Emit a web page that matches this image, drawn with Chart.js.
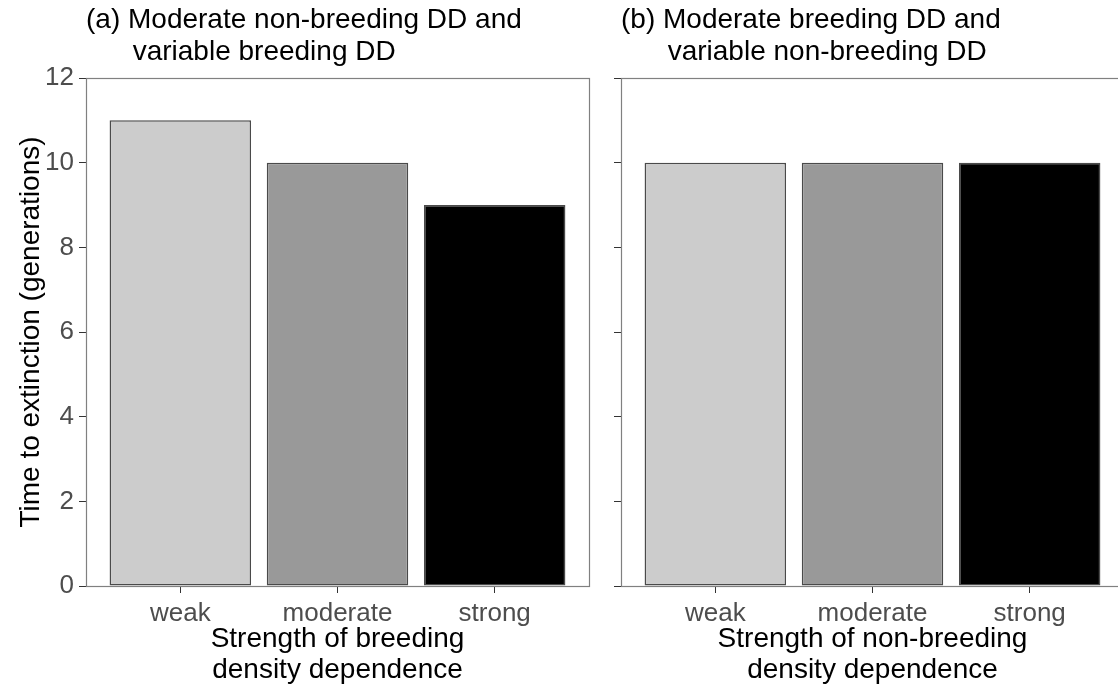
<!DOCTYPE html>
<html>
<head>
<meta charset="utf-8">
<script src="https://cdn.jsdelivr.net/npm/chart.js@4.4.1/dist/chart.umd.min.js"></script>
<style>
  html, body { margin: 0; padding: 0; background: #ffffff; overflow: hidden; }
  #wrap { position: relative; width: 1118px; height: 692px; overflow: hidden; }
  canvas { position: absolute; top: 0; }
  #panelA { left: 0; }
  #panelB { left: 600px; }
</style>
</head>
<body>
<div id="wrap">
  <canvas id="panelA" width="600" height="692"></canvas>
  <canvas id="panelB" width="530" height="692"></canvas>
</div>
<script>
// Density-dependence strength levels on the x axis
const categories = ['weak', 'moderate', 'strong'];
// Time to extinction (generations) for each panel
const breedingVariableTimes = [11, 10, 9];
const nonBreedingVariableTimes = [10, 10, 10];
const barFills = ['#cccccc', '#999999', '#000000'];
const yMax = 12;
const yStep = 2;

const titleA = ['(a) Moderate non-breeding DD and', '      variable breeding DD'];
const titleB = ['(b) Moderate breeding DD and', '      variable non-breeding DD'];
const xTitleA = ['Strength of breeding', 'density dependence'];
const xTitleB = ['Strength of non-breeding', 'density dependence'];
const yTitle = 'Time to extinction (generations)';

const FONT = "'Liberation Sans', Arial, Helvetica, sans-serif";
const TICK_GREY = '#4d4d4d';

// Draws the full panel border around the plotting area
const panelBorder = {
  id: 'panelBorder',
  afterDatasetsDraw(chart) {
    const a = chart.chartArea;
    const ctx = chart.ctx;
    ctx.save();
    ctx.strokeStyle = '#808080';
    ctx.lineWidth = 1.2;
    ctx.strokeRect(a.left + 0.5, a.top + 0.5, a.right - a.left, a.bottom - a.top);
    ctx.restore();
  }
};

function makePanel(canvasId, values, title, xTitle, opts) {
  return new Chart(document.getElementById(canvasId), {
    type: 'bar',
    data: {
      datasets: [{
        data: values.map((v, i) => ({ x: i + 1, y: v })),
        backgroundColor: barFills,
        borderColor: '#4a4a4a',
        borderWidth: 1.5,
        borderSkipped: false,
        categoryPercentage: 1,
        barPercentage: 0.9
      }]
    },
    options: {
      responsive: false,
      animation: false,
      events: [],
      layout: { padding: { left: 0, right: opts.padRight, top: 0, bottom: 0 } },
      plugins: {
        legend: { display: false },
        tooltip: { enabled: false },
        title: {
          display: true,
          text: title,
          align: 'start',
          fullSize: false,
          color: '#000000',
          font: { family: FONT, size: 28, weight: 'normal', lineHeight: '32px' },
          padding: { top: 4, bottom: 10 }
        }
      },
      scales: {
        x: {
          type: 'linear',
          min: 0.4,
          max: categories.length + 0.6,
          offset: false,
          afterBuildTicks: s => { s.ticks = categories.map((c, i) => ({ value: i + 1 })); },
          afterFit: s => { s.height = 106; },
          ticks: {
            callback: v => categories[Math.round(v) - 1],
            color: TICK_GREY,
            font: { family: FONT, size: 26 },
            padding: 5,
            maxRotation: 0,
            autoSkip: false
          },
          grid: { offset: false, drawOnChartArea: false, drawTicks: true, tickLength: 7, color: '#333333', lineWidth: 1 },
          border: { display: false },
          title: {
            display: true,
            text: xTitle,
            color: '#000000',
            font: { family: FONT, size: 28, lineHeight: '31px' },
            padding: { top: 0, bottom: 6 }
          }
        },
        y: {
          min: 0,
          max: yMax,
          afterFit: s => { s.width = opts.yWidth; },
          ticks: {
            stepSize: yStep,
            display: opts.showYLabels,
            color: TICK_GREY,
            font: { family: FONT, size: 26 },
            padding: 5
          },
          grid: { drawOnChartArea: false, drawTicks: true, tickLength: 7, color: '#333333', lineWidth: 1 },
          border: { display: false },
          title: {
            display: opts.showYTitle,
            text: yTitle,
            color: '#000000',
            font: { family: FONT, size: 28, lineHeight: 1.2 },
            padding: { top: 14, bottom: 0 }
          }
        }
      }
    },
    plugins: [panelBorder]
  });
}

makePanel('panelA', breedingVariableTimes, titleA, xTitleA,
  { padRight: 11, yWidth: 86, showYLabels: true, showYTitle: true });
makePanel('panelB', nonBreedingVariableTimes, titleB, xTitleB,
  { padRight: 6, yWidth: 21, showYLabels: false, showYTitle: false });
</script>
</body>
</html>
